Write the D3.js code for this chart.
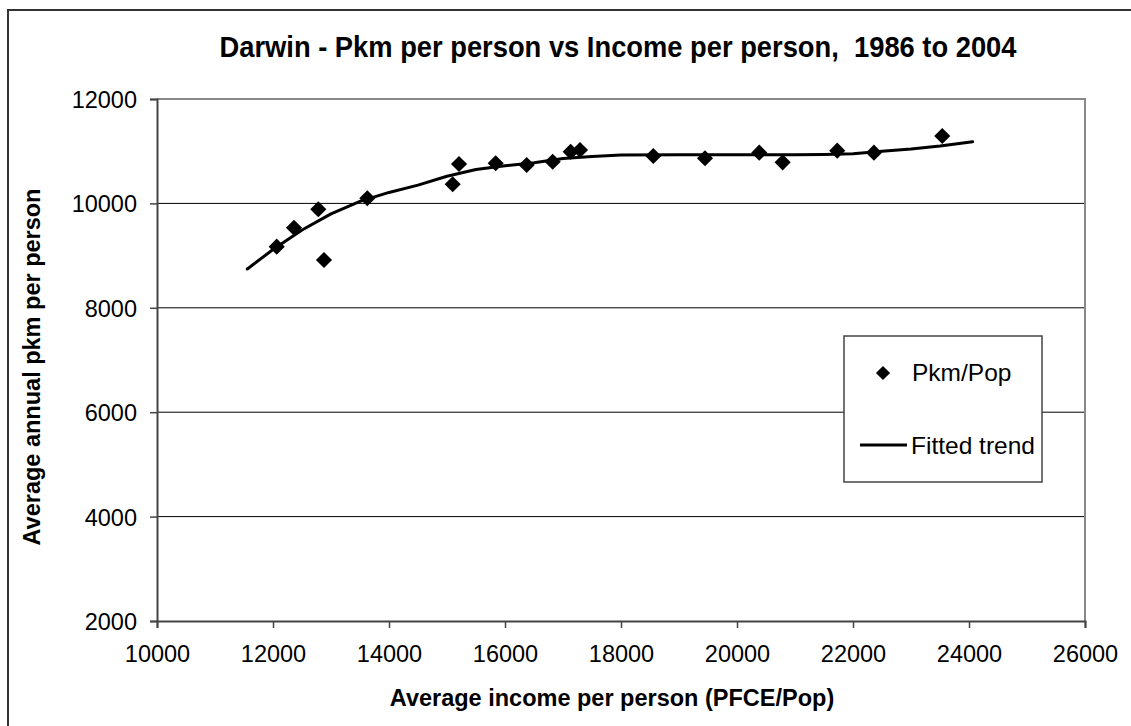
<!DOCTYPE html>
<html><head><meta charset="utf-8">
<script src="https://cdn.jsdelivr.net/npm/d3@7"></script>
<style>body{margin:0;background:#fff;} text{font-family:"Liberation Sans",Arial,sans-serif;}</style>
</head><body>
<svg id="c" width="1131" height="726"></svg>
<script>
const title = "Darwin - Pkm per person vs Income per person,  1986 to 2004";
const xTitle = "Average income per person (PFCE/Pop)";
const yTitle = "Average annual pkm per person";
const xTicks = [10000,12000,14000,16000,18000,20000,22000,24000,26000];
const yTicks = [2000,4000,6000,8000,10000,12000];
// observed points
const income = [12064,12362,12781,12879,13626,15098,15207,15839,16374,16822,17132,17293,18557,19448,20384,20787,21728,22361,23539];
const pkm    = [9171,9534,9887,8916,10098,10366,10755,10768,10736,10799,10990,11023,10908,10864,10972,10787,11010,10972,11291];
// fitted trend
const trendX = [11557,12000,12500,13000,13500,14000,14500,15000,15500,16000,16500,17000,17500,18000,19000,20000,21000,21500,22000,22500,23000,23500,24063];
const trendY = [8743,9117,9490,9800,10040,10210,10350,10520,10650,10720,10780,10860,10900,10925,10930,10930,10930,10935,10950,11000,11040,11100,11183];
const legendLabels = ["Pkm/Pop","Fitted trend"];

const svg = d3.select("#c");
const L=157, R=1085, T=99, B=621;
const x = d3.scaleLinear().domain([10000,26000]).range([L,R]);
const y = d3.scaleLinear().domain([2000,12000]).range([B,T]);

// outer frame
svg.append("rect").attr("x",8).attr("y",10).attr("width",1140).attr("height",730)
  .attr("fill","none").attr("stroke","#333").attr("stroke-width",2);

// title
svg.append("text").attr("x",618).attr("y",57).attr("text-anchor","middle")
  .style("white-space","pre")
  .attr("font-size",29).attr("font-weight","bold").attr("textLength",797)
  .attr("lengthAdjust","spacingAndGlyphs").text(title);

// gridlines
svg.append("g").selectAll("line").data(yTicks.filter(v=>v>2000 && v<12000)).join("line")
  .attr("x1",L).attr("x2",R).attr("y1",d=>y(d)).attr("y2",d=>y(d))
  .attr("stroke","#000").attr("stroke-width",1);

// plot border top/right
svg.append("path").attr("d",`M${L},${T}H${R}V${B}`).attr("fill","none")
  .attr("stroke","#888").attr("stroke-width",2);

// axes
const xAxis = svg.append("g").attr("transform",`translate(0,${B})`)
  .call(d3.axisBottom(x).tickValues(xTicks).tickFormat(d3.format("d")).tickSize(7).tickPadding(17));
const yAxis = svg.append("g").attr("transform",`translate(${L},0)`)
  .call(d3.axisLeft(y).tickValues(yTicks).tickFormat(d3.format("d")).tickSize(7).tickPadding(13));
[xAxis,yAxis].forEach(a=>{
  a.select(".domain").attr("stroke","#444").attr("stroke-width",2);
  a.selectAll(".tick line").attr("stroke","#444").attr("stroke-width",1.5);
  a.selectAll(".tick text").attr("font-size",23.5).attr("fill","#000")
   .attr("font-family","Liberation Sans, Arial, sans-serif");
});
yAxis.selectAll(".tick text").attr("dy","0.36em");

// axis titles
svg.append("text").attr("x",612).attr("y",706).attr("text-anchor","middle")
  .attr("font-size",23.5).attr("font-weight","bold").text(xTitle);
svg.append("text").attr("transform","translate(40,367) rotate(-90)").attr("text-anchor","middle")
  .attr("font-size",23.5).attr("font-weight","bold").text(yTitle);

// trend line
const line = d3.line().x(d=>x(d[0])).y(d=>y(d[1]));
svg.append("path").datum(trendX.map((v,i)=>[v,trendY[i]])).attr("d",line)
  .attr("fill","none").attr("stroke","#000").attr("stroke-width",3).attr("stroke-linejoin","round").attr("stroke-linecap","round");

// points
const sym = d3.symbol(d3.symbolSquare, 130);
svg.append("g").selectAll("path").data(income.map((v,i)=>[v,pkm[i]])).join("path")
  .attr("d",sym).attr("transform",d=>`translate(${x(d[0])},${y(d[1])}) rotate(45)`).attr("fill","#000");

// legend
const lg = svg.append("g");
lg.append("rect").attr("x",844).attr("y",336).attr("width",198).attr("height",146)
  .attr("fill","#fff").attr("stroke","#444").attr("stroke-width",1.5);
lg.append("path").attr("d",d3.symbol(d3.symbolSquare,100)).attr("transform","translate(883,373) rotate(45)").attr("fill","#000");
lg.append("text").attr("x",912).attr("y",381).attr("font-size",24.5).text(legendLabels[0]);
lg.append("line").attr("x1",860).attr("x2",907).attr("y1",445).attr("y2",445).attr("stroke","#000").attr("stroke-width",3);
lg.append("text").attr("x",911).attr("y",454).attr("font-size",24.5).text(legendLabels[1]);
</script>
</body></html>
